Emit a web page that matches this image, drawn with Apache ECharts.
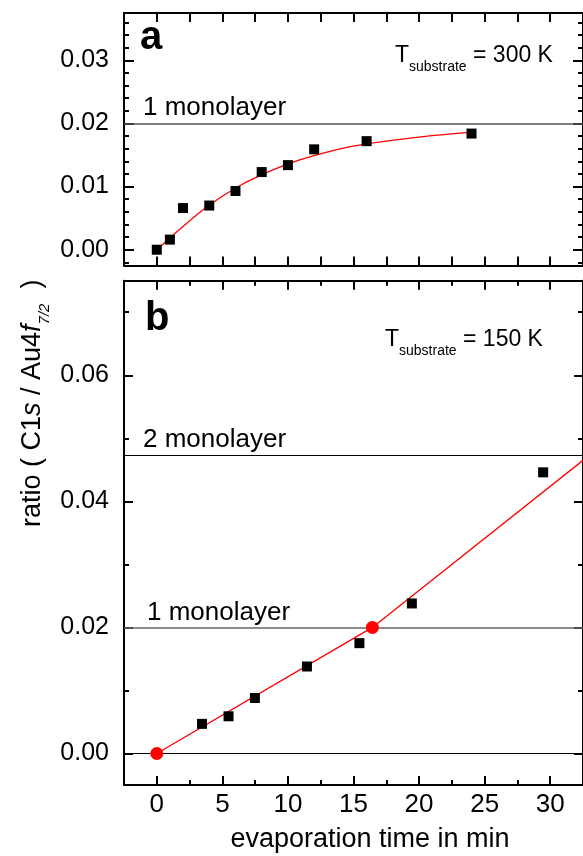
<!DOCTYPE html>
<html><head><meta charset="utf-8">
<script src="https://cdn.jsdelivr.net/npm/echarts@6/dist/echarts.min.js"></script>
<style>html,body{margin:0;padding:0;background:#fff}#c{width:583px;height:856px}</style>
</head><body><div id="c"></div>
<script>
// ---- Panel a (T_substrate = 300 K) ----
const timeA = [0, 1, 2, 4, 6, 8, 10, 12, 16, 24];
const ratioA = [0.0000, 0.0016, 0.0066, 0.0070, 0.0093, 0.0123, 0.0134, 0.0159, 0.0172, 0.0184];
const fitTimeA = [0, 1.22, 3.75, 6.28, 8.81, 10.84, 13.88, 15.91, 20.97, 23.9];
const fitRatioA = [0, 0.00227, 0.00668, 0.0101, 0.0126, 0.0142, 0.01595, 0.01674, 0.01806, 0.0186];
// ---- Panel b (T_substrate = 150 K) ----
const timeB = [3.45, 5.47, 7.48, 11.45, 15.45, 19.45, 29.46];
const ratioB = [0.0047, 0.0059, 0.0088, 0.0138, 0.0175, 0.0238, 0.0446];
const markTimeB = [0, 16.44];
const markRatioB = [0, 0.0200];
const fitTimeB = [0, 16.44, 32.5];
const fitRatioB = [0, 0.0200, 0.0465];
// reference levels
const monolayer1 = 0.020;
const monolayer2 = 0.0473;
// ticks
const xTicksA = [0, 2.5, 5, 7.5, 10, 12.5, 15, 17.5, 20, 22.5, 25, 27.5, 30];
const xMajorB = [0, 5, 10, 15, 20, 25, 30];
const xMinorB = [2.5, 7.5, 12.5, 17.5, 22.5, 27.5];
const yMajorA = [0, 0.01, 0.02, 0.03];
const yMinorA = [-0.002, 0.002, 0.004, 0.006, 0.008, 0.012, 0.014, 0.016, 0.018, 0.022, 0.024, 0.026, 0.028, 0.032, 0.034, 0.036];
const yMajorB = [0, 0.02, 0.04, 0.06];
const yMinorB = [0.01, 0.03, 0.05, 0.07];

const FONT = '"Liberation Sans", Arial, Helvetica, sans-serif';
const zip = (a, b) => a.map((v, i) => [v, b[i]]);

function buildAxes(dim, gi, cfg) {
  const pos = dim === 'x' ? ['bottom', 'top'] : ['left', 'right'];
  const out = [];
  pos.forEach((p, k) => {
    out.push({
      type: 'value', gridIndex: gi, position: p, min: cfg.min, max: cfg.max,
      axisLine: {show: true, onZero: false, lineStyle: {color: '#000', width: 2}},
      axisTick: {show: true, inside: true, length: cfg.majorLen, lineStyle: {color: '#000', width: 2}, customValues: cfg.major},
      axisLabel: {show: k === 0 && !!cfg.labels, customValues: cfg.major, formatter: cfg.fmt, color: '#000',
        fontSize: cfg.fs, fontFamily: FONT, margin: cfg.margin},
      splitLine: {show: false}, minorTick: {show: false}
    });
    if (cfg.minor) {
      out.push({
        type: 'value', gridIndex: gi, position: p, min: cfg.min, max: cfg.max,
        axisLine: {show: false, onZero: false},
        axisTick: {show: true, inside: true, length: cfg.minorLen, lineStyle: {color: '#000', width: 2}, customValues: cfg.minor},
        axisLabel: {show: false}, splitLine: {show: false}, minorTick: {show: false}
      });
    }
  });
  return out;
}

const xAxes = [], yAxes = [];
const xa0 = xAxes.length;
xAxes.push(...buildAxes('x', 0, {min: -2.5, max: 32.5, major: xTicksA, majorLen: 9, labels: false}));
const xb0 = xAxes.length;
xAxes.push(...buildAxes('x', 1, {min: -2.5, max: 32.5, major: xMajorB, minor: xMinorB, majorLen: 9, minorLen: 5,
  labels: true, fmt: v => String(v), fs: 26, margin: 7}));
const ya0 = yAxes.length;
yAxes.push(...buildAxes('y', 0, {min: -0.0025, max: 0.0375, major: yMajorA, minor: yMinorA, majorLen: 10, minorLen: 5,
  labels: true, fmt: v => v.toFixed(2), fs: 25, margin: 15}));
const yb0 = yAxes.length;
yAxes.push(...buildAxes('y', 1, {min: -0.005, max: 0.075, major: yMajorB, minor: yMinorB, majorLen: 9, minorLen: 5,
  labels: true, fmt: v => v.toFixed(2), fs: 25, margin: 15}));

// text helpers
const mctx = document.createElement('canvas').getContext('2d');
function fontStr(r) { return (r.it ? 'italic ' : '') + (r.bold ? 'bold ' : '') + r.fs + 'px ' + FONT; }
function runs(list, x0, y0, vertical) {
  const els = [];
  let pos = vertical ? y0 : x0;
  list.forEach(r => {
    mctx.font = fontStr(r);
    const w = mctx.measureText(r.t).width;
    const dy = r.dy || 0;
    const mid = -0.3465 * r.fs; // offset from baseline to middle
    if (!vertical) {
      els.push({type: 'text', x: pos, y: y0 + dy + mid, silent: true,
        style: {text: r.t, font: fontStr(r), fill: '#000', align: 'left', textAlign: 'left', verticalAlign: 'middle', textVerticalAlign: 'middle'}});
      pos += w;
    } else {
      els.push({type: 'text', x: x0 + dy + mid, y: pos, rotation: Math.PI / 2, silent: true,
        style: {text: r.t, font: fontStr(r), fill: '#000', align: 'left', textAlign: 'left', verticalAlign: 'middle', textVerticalAlign: 'middle'}});
      pos -= w;
    }
  });
  return els;
}

const graphics = [].concat(
  runs([{t: 'a', fs: 40, bold: true}], 140, 52),
  runs([{t: 'b', fs: 40, bold: true}], 145, 333),
  runs([{t: 'T', fs: 23}, {t: 'substrate', fs: 14, dy: 8.4}, {t: ' = 300 K', fs: 23}], 395, 63.3),
  runs([{t: 'T', fs: 23}, {t: 'substrate', fs: 14, dy: 8.4}, {t: ' = 150 K', fs: 23}], 385, 347.3),
  runs([{t: '1 monolayer', fs: 26}], 143, 116.7),
  runs([{t: '2 monolayer', fs: 26}], 143, 449),
  runs([{t: '1 monolayer', fs: 26}], 147, 621.7),
  runs([{t: 'ratio ( C1', fs: 27}, {t: 's', fs: 27, it: true}, {t: ' / Au4', fs: 27}, {t: 'f', fs: 27, it: true},
        {t: '7/2', fs: 15, it: true, dy: 8}, {t: '  )', fs: 27}], 42, 527, true)
);
// x axis name, centered
(function () {
  const r = {t: 'evaporation time in min', fs: 27};
  mctx.font = fontStr(r);
  const w = mctx.measureText(r.t).width;
  graphics.push(...runs([r], 370 - w / 2, 849));
})();

const chart = echarts.init(document.getElementById('c'), null, {renderer: 'canvas'});
chart.setOption({
  animation: false,
  backgroundColor: '#fff',
  grid: [
    {left: 124, top: 13, width: 460.6, height: 252.5, containLabel: false},
    {left: 124, top: 280.7, width: 460.6, height: 504.3, containLabel: false}
  ],
  xAxis: xAxes,
  yAxis: yAxes,
  graphic: graphics,
  series: [
    {type: 'line', xAxisIndex: xa0, yAxisIndex: ya0, data: zip(fitTimeA, fitRatioA), showSymbol: false, symbol: 'none',
      smooth: 0.25, lineStyle: {color: '#ff0000', width: 1.3}, z: 3,
      markLine: {silent: true, symbol: 'none', precision: 6, label: {show: false}, animation: false,
        data: [{yAxis: monolayer1, lineStyle: {color: '#555', width: 1.5, type: 'solid'}}]}},
    {type: 'scatter', xAxisIndex: xa0, yAxisIndex: ya0, data: zip(timeA, ratioA), symbol: 'rect', symbolSize: 10,
      itemStyle: {color: '#000', opacity: 1}, z: 4},
    {type: 'line', xAxisIndex: xb0, yAxisIndex: yb0, data: zip(fitTimeB, fitRatioB), showSymbol: false, symbol: 'none',
      lineStyle: {color: '#ff0000', width: 1.3}, z: 3,
      markLine: {silent: true, symbol: 'none', precision: 6, label: {show: false}, animation: false,
        data: [
          {yAxis: 0, lineStyle: {color: '#000', width: 1, type: 'solid'}},
          {yAxis: monolayer1, lineStyle: {color: '#666', width: 1.5, type: 'solid'}},
          {yAxis: monolayer2, lineStyle: {color: '#000', width: 1, type: 'solid'}}
        ]}},
    {type: 'scatter', xAxisIndex: xb0, yAxisIndex: yb0, data: zip(timeB, ratioB), symbol: 'rect', symbolSize: 10,
      itemStyle: {color: '#000', opacity: 1}, z: 4},
    {type: 'scatter', xAxisIndex: xb0, yAxisIndex: yb0, data: zip(markTimeB, markRatioB), symbol: 'circle', symbolSize: 13,
      itemStyle: {color: '#ff0000', opacity: 1}, z: 5}
  ]
});
</script></body></html>
